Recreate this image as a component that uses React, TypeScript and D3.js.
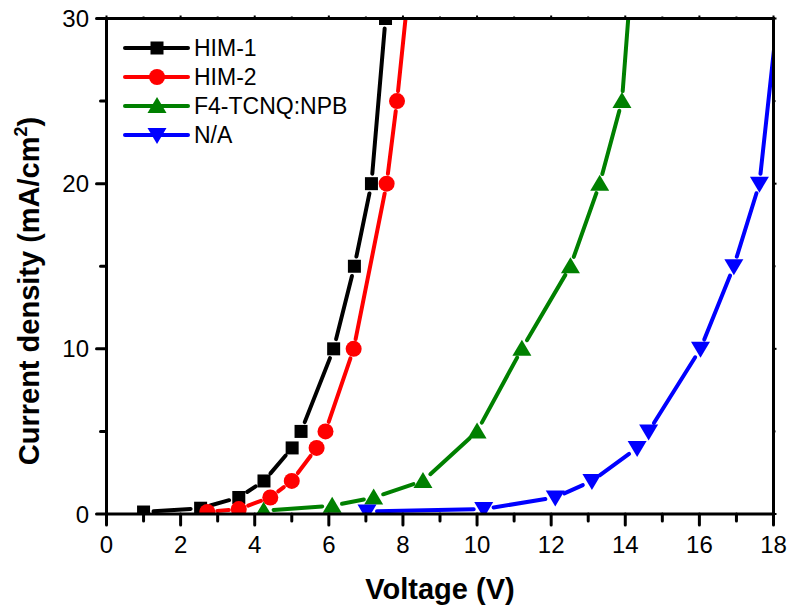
import React from "react";
import * as d3 from "d3";

// J-V curves, voltage (V) and current density (mA/cm2)
const him1V = [1.0, 2.54, 3.57, 4.25, 5.01, 5.25, 6.13, 6.69, 7.15, 7.53];
const him1J = [0.12, 0.35, 1, 2, 4, 5, 10, 15, 20, 30];
const him2V = [2.72, 3.57, 4.42, 5.0, 5.67, 5.91, 6.67, 7.56, 7.84, 8.3];
const him2J = [0.12, 0.3, 1, 2, 4, 5, 10, 20, 25, 35];
const f4V = [4.24, 6.09, 7.21, 8.54, 10.0, 11.21, 12.52, 13.31, 13.91, 14.25];
const f4J = [0.2, 0.5, 1, 2, 5, 10, 15, 20, 25, 35];
const naV = [7.03, 10.18, 12.11, 13.1, 14.32, 14.63, 16.03, 16.93, 17.62, 18.25];
const naJ = [0.15, 0.3, 1, 2, 4, 5, 10, 15, 20, 33];

const seriesNames = ["HIM-1", "HIM-2", "F4-TCNQ:NPB", "N/A"];
const seriesColors = ["#000000", "#ff0000", "#008000", "#0000ff"];
const seriesShapes = ["square", "circle", "triangle", "down"];

const xTicks = [0, 2, 4, 6, 8, 10, 12, 14, 16, 18];
const xMinor = [1, 3, 5, 7, 9, 11, 13, 15, 17];
const yTicks = [0, 10, 20, 30];
const yMinor = [5, 15, 25];

const W = 792;
const H = 610;
const left = 106.5;
const right = 773.5;
const top = 18.5;
const bottom = 514;

const x = d3.scaleLinear().domain([0, 18]).range([left, right]);
const y = d3.scaleLinear().domain([0, 30]).range([bottom, top]);

const font = "'Liberation Sans', Arial, sans-serif";

const Marker = ({ shape, cx, cy, color }) => {
  if (shape === "square")
    return <rect x={cx - 6.5} y={cy - 6.5} width={13} height={13} fill={color} />;
  if (shape === "circle") return <circle cx={cx} cy={cy} r={8} fill={color} />;
  if (shape === "triangle")
    return (
      <path
        d={`M${cx},${cy - 9}L${cx + 9.5},${cy + 7}L${cx - 9.5},${cy + 7}Z`}
        fill={color}
      />
    );
  return (
    <path
      d={`M${cx},${cy + 9}L${cx + 9.5},${cy - 7}L${cx - 9.5},${cy - 7}Z`}
      fill={color}
    />
  );
};

// line segments stop short of each marker, as in the original plot
const gappedSegments = (pts, gap) => {
  const segs = [];
  for (let i = 0; i < pts.length - 1; i++) {
    const [x0, y0] = pts[i];
    const [x1, y1] = pts[i + 1];
    const len = Math.hypot(x1 - x0, y1 - y0);
    if (len <= gap * 2 + 1) continue;
    const ux = (x1 - x0) / len;
    const uy = (y1 - y0) / len;
    segs.push([x0 + ux * gap, y0 + uy * gap, x1 - ux * gap, y1 - uy * gap]);
  }
  return segs;
};

const App = () => {
  const series = [
    [him1V, him1J],
    [him2V, him2J],
    [f4V, f4J],
    [naV, naJ],
  ];

  return (
    <svg
      width={W}
      height={H}
      style={{ position: "absolute", left: 0, top: 0, display: "block", background: "#fff" }}
    >
      <defs>
        <clipPath id="plot">
          <rect x={left} y={top} width={right - left} height={bottom - top} />
        </clipPath>
      </defs>

      <g clipPath="url(#plot)">
        {series.map(([vs, js], si) => {
          const pts = vs.map((v, i) => [x(v), y(js[i])]);
          return (
            <g key={si}>
              {gappedSegments(pts, 10).map((s, i) => (
                <line
                  key={i}
                  x1={s[0]}
                  y1={s[1]}
                  x2={s[2]}
                  y2={s[3]}
                  stroke={seriesColors[si]}
                  strokeWidth={4}
                  strokeLinecap="round"
                />
              ))}
              {pts.map((p, i) => (
                <Marker
                  key={i}
                  shape={seriesShapes[si]}
                  cx={p[0]}
                  cy={p[1]}
                  color={seriesColors[si]}
                />
              ))}
            </g>
          );
        })}
      </g>

      {/* frame */}
      <rect
        x={left}
        y={top}
        width={right - left}
        height={bottom - top}
        fill="none"
        stroke="#000"
        strokeWidth={3}
      />

      {/* bottom & top ticks */}
      {xTicks.map((t) => (
        <g key={"xt" + t}>
          <line x1={x(t)} x2={x(t)} y1={bottom} y2={bottom + 11} stroke="#000" strokeWidth={3} strokeLinecap="round" />
          <line x1={x(t)} x2={x(t)} y1={top} y2={top - 3} stroke="#000" strokeWidth={2} />
          <text x={x(t)} y={553} textAnchor="middle" fontFamily={font} fontSize={24}>
            {t}
          </text>
        </g>
      ))}
      {xMinor.map((t) => (
        <g key={"xm" + t}>
          <line x1={x(t)} x2={x(t)} y1={bottom} y2={bottom + 7} stroke="#000" strokeWidth={3} strokeLinecap="round" />
          <line x1={x(t)} x2={x(t)} y1={top} y2={top - 2} stroke="#000" strokeWidth={2} />
        </g>
      ))}

      {/* left & right ticks */}
      {yTicks.map((t) => (
        <g key={"yt" + t}>
          <line x1={left} x2={left - 10} y1={y(t)} y2={y(t)} stroke="#000" strokeWidth={3} strokeLinecap="round" />
          <line x1={right} x2={right + 3} y1={y(t)} y2={y(t)} stroke="#000" strokeWidth={2} />
          <text x={89} y={y(t) + 8.5} textAnchor="end" fontFamily={font} fontSize={24}>
            {t}
          </text>
        </g>
      ))}
      {yMinor.map((t) => (
        <g key={"ym" + t}>
          <line x1={left} x2={left - 6} y1={y(t)} y2={y(t)} stroke="#000" strokeWidth={3} strokeLinecap="round" />
          <line x1={right} x2={right + 2} y1={y(t)} y2={y(t)} stroke="#000" strokeWidth={2} />
        </g>
      ))}

      {/* axis titles */}
      <text x={440} y={599} textAnchor="middle" fontFamily={font} fontSize={29} fontWeight="bold">
        Voltage (V)
      </text>
      <text
        transform="translate(39,291) rotate(-90)"
        textAnchor="middle"
        fontFamily={font}
        fontSize={29}
        fontWeight="bold"
      >
        Current density (mA/cm
        <tspan fontSize={18} dy={-12}>2</tspan>
        <tspan dy={12}>)</tspan>
      </text>

      {/* legend */}
      {seriesNames.map((name, i) => {
        const ly = 48 + i * 29;
        return (
          <g key={name}>
            <line x1={125} x2={188} y1={ly} y2={ly} stroke={seriesColors[i]} strokeWidth={4} strokeLinecap="round" />
            <Marker shape={seriesShapes[i]} cx={157} cy={ly} color={seriesColors[i]} />
            <text x={194} y={ly + 8} fontFamily={font} fontSize={23}>
              {name}
            </text>
          </g>
        );
      })}
    </svg>
  );
};

export default App;
